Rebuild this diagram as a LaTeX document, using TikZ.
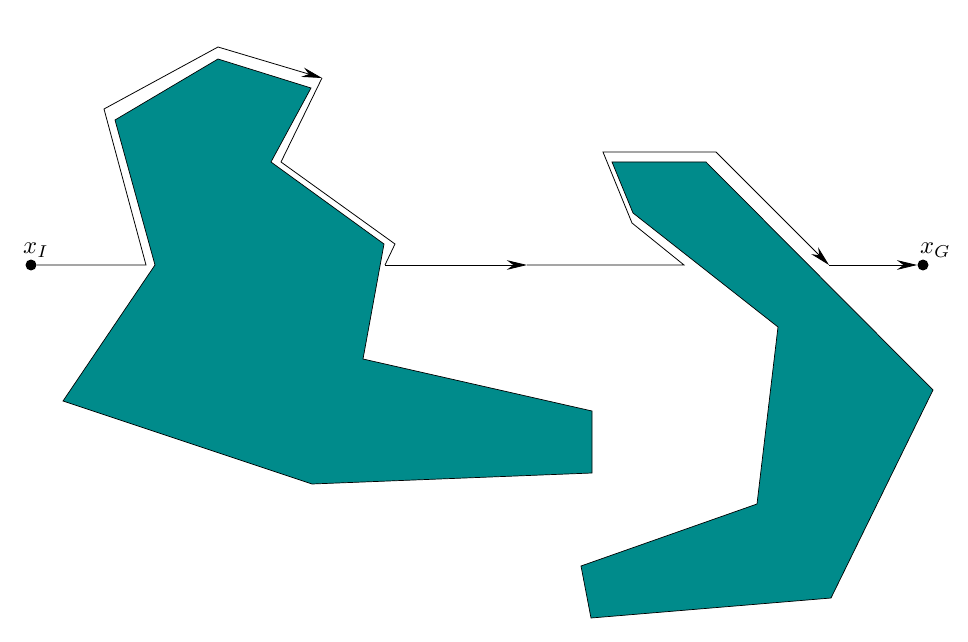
\documentclass[tikz,border=0pt]{standalone}
\usepackage{amsfonts,amssymb,amsmath}
\usepackage{xcolor}
\usetikzlibrary{arrows.meta}
\definecolor{obstcol}{RGB}{0,139,139}

\begin{document}
\begin{tikzpicture}[x=0.02cm,y=-0.02cm,>={Stealth[length=11.5pt,width=5.5pt]},
  obst/.style={draw=black,fill=obstcol,line width=0.4pt},
  pt/.style={shape=circle,fill=black,inner sep=0pt,minimum size=0.22cm},
  lbl/.style={scale=1.4}]
\useasboundingbox (0,0) rectangle (968,642);
% obstacles
\draw[obst](115,120)--(218,59)--(311,88)--(271,162)--(384,244)--(363,359)--(592,411)
  --(592,473)--(312,484)--(63,401)--(155,265)--cycle;
\draw[obst](612,162)--(706,162)--(933,390)--(831,598)--(591,618)--(581,566)
  --(757,504)--(778,327)--(633,213)--cycle;
% start and goal
\node[pt,label={[lbl,inner sep=0.5pt,xshift=2pt]above:$x_I$}] (xI) at (31,265){};
\node[pt,label={[lbl,inner sep=0.5pt,xshift=5pt]above:$x_G$}] (xG) at (923,265){};
% path around the obstacles
\coordinate (a1) at (146,265);
\coordinate (a2) at (104,109);
\coordinate (a3) at (218,47);
\coordinate (a4) at (322,78);
\coordinate (a5) at (281,162);
\coordinate (a6) at (395,244);
\coordinate (a7) at (385,265);
\coordinate (a8) at (527,265);
\coordinate (a9) at (684,265);
\coordinate (a10) at (632,223);
\coordinate (a11) at (603,152);
\coordinate (a12) at (716,152);
\coordinate (a13) at (829,265);
\draw[line width=0.45pt](xI)--(a1)--(a2)--(a3);
\draw[line width=0.45pt,->](a3)--(a4);
\draw[line width=0.45pt](a4)--(a5)--(a6)--(a7);
\draw[line width=0.45pt,->](a7)--(a8);
\draw[line width=0.45pt](a8)--(a9)--(a10)--(a11)--(a12);
\draw[line width=0.45pt,->](a12)--(a13);
\draw[line width=0.45pt,->](a13)--(xG);
\end{tikzpicture}
\end{document}
